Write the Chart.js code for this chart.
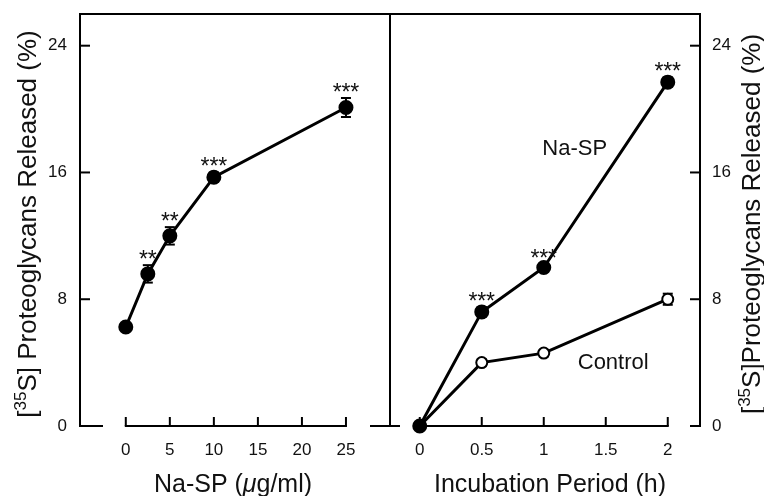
<!DOCTYPE html>
<html>
<head>
<meta charset="utf-8">
<script src="https://cdn.jsdelivr.net/npm/chart.js@4.4.0/dist/chart.umd.min.js"></script>
<style>
  html, body { margin: 0; padding: 0; background: #fff; }
  #wrap { position: relative; width: 764px; height: 496px; }
  #wrap canvas { position: absolute; left: 0; top: 0; }
</style>
</head>
<body>
<div id="wrap">
  <canvas id="doseChart" width="764" height="496"></canvas>
  <canvas id="timeChart" width="764" height="496"></canvas>
</div>
<script>
// left panel: release vs Na-SP concentration
const doseX = [0, 2.5, 5, 10, 25];
const doseY = [6.25, 9.6, 12.0, 15.7, 20.1];
const doseErr = [0.2, 0.55, 0.55, 0.3, 0.6];
const doseSig = ['', '**', '**', '***', '***'];

// right panel: release vs incubation time
const timeX = [0, 0.5, 1, 2];
const naspY = [0, 7.2, 10.0, 21.7];
const naspErr = [0, 0.3, 0.2, 0.3];
const naspSig = ['', '***', '***', '***'];
const controlY = [0, 4.0, 4.6, 8.0];
const controlErr = [0, 0.2, 0.2, 0.35];

const doseTicks = [0, 5, 10, 15, 20, 25];
const timeTicks = [0, 0.5, 1, 1.5, 2];
const yTicks = [0, 8, 16, 24];

const FONT = "'Liberation Sans', Arial, Helvetica, sans-serif";

function line(ctx, x1, y1, x2, y2) {
  ctx.beginPath();
  ctx.moveTo(x1, y1);
  ctx.lineTo(x2, y2);
  ctx.stroke();
}

// draw text made of several runs (superscript, italic)
function drawRuns(ctx, runs, x, y) {
  let w = 0;
  runs.forEach(r => {
    ctx.font = (r.italic ? 'italic ' : '') + r.size + 'px ' + FONT;
    r.w = ctx.measureText(r.t).width;
    w += r.w;
  });
  let cx = x - w / 2;
  ctx.textAlign = 'left';
  ctx.textBaseline = 'alphabetic';
  runs.forEach(r => {
    ctx.font = (r.italic ? 'italic ' : '') + r.size + 'px ' + FONT;
    ctx.fillText(r.t, cx, y - (r.rise || 0));
    cx += r.w;
  });
}

function yTitleRuns(gap) {
  return [
    { t: '[', size: 26 },
    { t: '35', size: 17, rise: 10 },
    { t: 'S]' + gap + 'Proteoglycans Released (%)', size: 26 }
  ];
}

function panelPlugin(cfg) {
  return {
    id: 'panel_' + cfg.side,
    beforeDatasetsDraw(chart) {
      const { ctx, chartArea: a, scales: { x, y } } = chart;
      ctx.save();
      ctx.strokeStyle = '#000';
      ctx.lineWidth = 2;
      ctx.lineCap = 'square';
      // frame
      line(ctx, a.left, a.top, a.right, a.top);
      line(ctx, a.left, a.top, a.left, a.bottom);
      line(ctx, a.right, a.top, a.right, a.bottom);
      ctx.lineCap = 'butt';
      cfg.stubs.forEach(s => line(ctx, s[0](a), a.bottom, s[1](a), a.bottom));
      // x axis with ticks pointing up
      const xs = cfg.xTicks.map(v => x.getPixelForValue(v));
      line(ctx, xs[0] - 1, a.bottom, xs[xs.length - 1] + 1, a.bottom);
      xs.forEach(px => line(ctx, px, a.bottom, px, a.bottom - 9));
      // y ticks pointing in
      yTicks.forEach(v => {
        const py = y.getPixelForValue(v);
        if (cfg.side === 'left') line(ctx, a.left, py, a.left + 10, py);
        else line(ctx, a.right - 10, py, a.right, py);
      });
      // error bars
      cfg.series.forEach(s => {
        s.x.forEach((xv, i) => {
          const e = s.err[i];
          if (!e) return;
          const px = x.getPixelForValue(xv);
          const top = y.getPixelForValue(s.y[i] + e);
          const bot = y.getPixelForValue(s.y[i] - e);
          line(ctx, px, top, px, bot);
          line(ctx, px - 5, top, px + 5, top);
          line(ctx, px - 5, bot, px + 5, bot);
        });
      });
      ctx.restore();
    },
    afterDatasetsDraw(chart) {
      const { ctx, chartArea: a, scales: { x, y } } = chart;
      ctx.save();
      ctx.fillStyle = '#111';
      // significance stars
      cfg.series.forEach(s => {
        if (!s.sig) return;
        s.x.forEach((xv, i) => {
          const n = s.sig[i].length;
          if (!n) return;
          const px = x.getPixelForValue(xv);
          const cy = y.getPixelForValue(s.y[i] + s.err[i]) - 11;
          ctx.font = '23px ' + FONT;
          ctx.textAlign = 'center';
          ctx.textBaseline = 'alphabetic';
          for (let k = 0; k < n; k++) {
            ctx.fillText('*', px + (k - (n - 1) / 2) * 8.8, cy + 13);
          }
        });
      });
      // in-plot labels
      (cfg.labels || []).forEach(l => {
        ctx.font = '22px ' + FONT;
        ctx.textAlign = 'center';
        ctx.textBaseline = 'middle';
        ctx.fillText(l.t, x.getPixelForValue(l.x), y.getPixelForValue(l.y));
      });
      // x title
      drawRuns(ctx, cfg.xTitle, (a.left + a.right) / 2 + cfg.xTitleShift, 492);
      // y title, reading bottom to top
      ctx.translate(cfg.yTitleX, (a.top + a.bottom) / 2 + 4);
      ctx.rotate(-Math.PI / 2);
      drawRuns(ctx, cfg.yTitle, 0, 0);
      ctx.restore();
    }
  };
}

function makeOptions(xMin, xMax, xTickVals, side) {
  return {
    responsive: false,
    animation: false,
    devicePixelRatio: 1,
    events: [],
    layout: { padding: side === 'left'
      ? { top: 14, right: 374, left: 0, bottom: 0 }
      : { top: 14, right: 0, left: 390, bottom: 0 } },
    plugins: { legend: { display: false }, tooltip: { enabled: false } },
    scales: {
      x: {
        type: 'linear', position: 'bottom', min: xMin, max: xMax,
        afterBuildTicks: s => { s.ticks = xTickVals.map(v => ({ value: v })); },
        afterFit: s => { s.height = 70; s.paddingLeft = 0; s.paddingRight = 0; },
        grid: { display: false, drawTicks: false },
        border: { display: false },
        ticks: { font: { size: 17, family: FONT }, color: '#111', padding: 14,
          maxRotation: 0, autoSkip: false, callback: v => String(v) }
      },
      y: {
        type: 'linear', position: side, min: 0, max: 26,
        afterBuildTicks: s => { s.ticks = yTicks.map(v => ({ value: v })); },
        afterFit: s => { s.width = side === 'left' ? 80 : 64; s.paddingTop = 0; s.paddingBottom = 0; },
        grid: { display: false, drawTicks: false },
        border: { display: false },
        ticks: { font: { size: 17, family: FONT }, color: '#111', padding: side === 'left' ? 13 : 12,
          callback: v => String(v) }
      }
    }
  };
}

const filled = { showLine: true, borderColor: '#000', borderWidth: 3, pointRadius: 6.5,
  pointBorderWidth: 2, pointBackgroundColor: '#000', pointBorderColor: '#000', clip: false };
const hollow = { showLine: true, borderColor: '#000', borderWidth: 3, pointRadius: 5.5,
  pointBorderWidth: 2, pointBackgroundColor: '#fff', pointBorderColor: '#000', clip: false };

new Chart(document.getElementById('doseChart'), {
  type: 'scatter',
  data: { datasets: [
    Object.assign({ data: doseX.map((v, i) => ({ x: v, y: doseY[i] })) }, filled)
  ] },
  options: makeOptions(-5.2, 30, doseTicks, 'left'),
  plugins: [panelPlugin({
    side: 'left',
    xTicks: doseTicks,
    stubs: [[a => a.left, a => a.left + 23], [a => a.right - 20, a => a.right + 10]],
    series: [{ x: doseX, y: doseY, err: doseErr, sig: doseSig }],
    xTitle: [{ t: 'Na-SP (', size: 25 }, { t: 'μ', size: 25, italic: true }, { t: 'g/ml)', size: 25 }],
    xTitleShift: -2,
    yTitle: yTitleRuns(' '),
    yTitleX: 36
  })]
});

new Chart(document.getElementById('timeChart'), {
  type: 'scatter',
  data: { datasets: [
    Object.assign({ data: timeX.map((v, i) => ({ x: v, y: naspY[i] })) }, filled),
    Object.assign({ data: timeX.map((v, i) => ({ x: v, y: controlY[i] })) }, hollow)
  ] },
  options: makeOptions(-0.24, 2.26, timeTicks, 'right'),
  plugins: [panelPlugin({
    side: 'right',
    xTicks: timeTicks,
    stubs: [[a => a.right - 10, a => a.right]],
    series: [
      { x: timeX, y: naspY, err: naspErr, sig: naspSig },
      { x: timeX, y: controlY, err: controlErr }
    ],
    labels: [{ t: 'Na-SP', x: 1.25, y: 17.5 }, { t: 'Control', x: 1.56, y: 4.0 }],
    xTitle: [{ t: 'Incubation Period (h)', size: 25 }],
    xTitleShift: 5,
    yTitle: yTitleRuns(''),
    yTitleX: 760
  })]
});
</script>
</body>
</html>
